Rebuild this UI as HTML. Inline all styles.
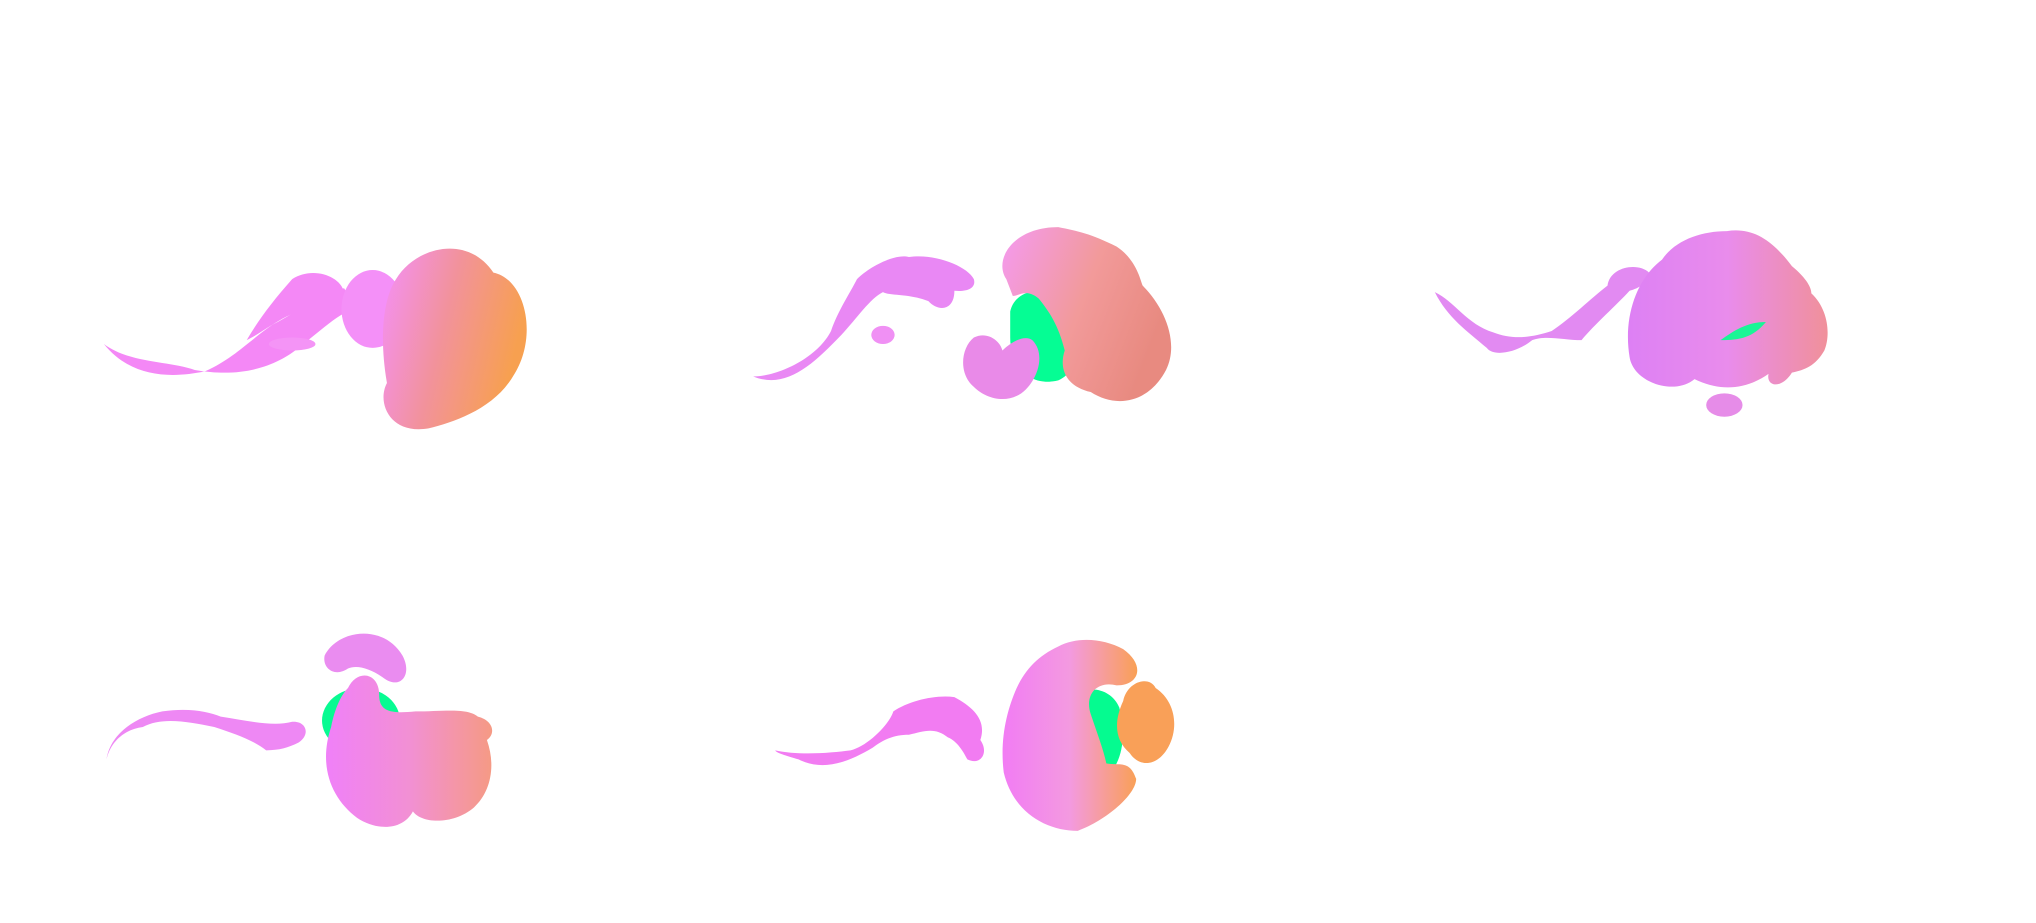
<!DOCTYPE html>
<html><head><meta charset="utf-8"><style>
html,body{margin:0;padding:0;background:#fff;width:2036px;height:923px;overflow:hidden}
svg{display:block}
</style></head><body>
<svg width="2036" height="923" viewBox="0 0 1568 711" preserveAspectRatio="none" xmlns="http://www.w3.org/2000/svg">
<defs>
<linearGradient id="g1" x1="0" y1="0" x2="1" y2="0.3"><stop offset="0" stop-color="#f490f8"/><stop offset="0.5" stop-color="#f2929c"/><stop offset="1" stop-color="#f7a050"/></linearGradient>
<linearGradient id="g2" x1="0" y1="0" x2="1" y2="0.4"><stop offset="0" stop-color="#f49af0"/><stop offset="0.55" stop-color="#f29a9a"/><stop offset="1" stop-color="#e88a80"/></linearGradient>
<linearGradient id="g3" x1="0" y1="0" x2="1" y2="0"><stop offset="0" stop-color="#dd80f4"/><stop offset="0.5" stop-color="#e98cec"/><stop offset="1" stop-color="#f0909a"/></linearGradient>
<linearGradient id="g4" x1="0" y1="0" x2="1" y2="0"><stop offset="0" stop-color="#f080f8"/><stop offset="0.5" stop-color="#f290d4"/><stop offset="1" stop-color="#f59a84"/></linearGradient>
<linearGradient id="g5" x1="0" y1="0" x2="1" y2="0"><stop offset="0" stop-color="#f27cf4"/><stop offset="0.5" stop-color="#f39ae0"/><stop offset="1" stop-color="#f9a055"/></linearGradient>
</defs>

<g>
<path fill="#f488f6" d="M80,265 C100,280 130,278 150,285 C190,292 215,280 230,268 C250,252 265,238 275,238 L265,222 C245,226 230,240 210,250 C190,264 180,276 158,286 C130,292 100,290 80,265Z"/>
<path fill="#f488f6" d="M190,262 C200,245 210,232 225,215 C240,205 262,212 265,225 C265,238 255,242 245,238 C225,236 205,255 190,262Z"/>
<ellipse cx="225" cy="265" rx="18" ry="5" fill="#f494f6"/>
<ellipse cx="287" cy="238" rx="24" ry="30" fill="#f490f8"/>
<path fill="url(#g1)" d="M305,215 C320,190 360,180 380,210 C405,215 415,260 395,290 C380,315 350,325 330,330 C300,335 290,310 298,295 C292,260 295,230 305,215Z"/>
</g>

<g>
<path fill="#e988f4" d="M580,290 C600,290 630,275 640,255 C645,240 655,225 660,215 C670,205 690,195 700,198 C720,195 745,205 750,215 C752,222 745,225 735,224 C735,240 722,240 715,232 C700,226 685,228 680,225 C670,230 660,245 648,258 C625,282 605,300 580,290Z"/>
<ellipse cx="680" cy="258" rx="9" ry="7" fill="#f090f4"/>
<path fill="#05fd94" d="M778,240 C782,222 805,220 815,232 C830,250 835,285 815,293 C795,298 778,285 778,260Z"/>
<path fill="url(#g2)" d="M775,215 C765,200 780,175 815,175 C830,178 840,180 860,190 C875,200 878,215 880,220 C898,238 908,265 898,285 C885,310 860,315 840,302 C822,298 815,285 820,270 C815,250 808,240 800,230 C790,222 785,228 780,228Z"/>
<path fill="#e98ae8" d="M750,260 C760,255 770,262 772,270 C780,262 790,258 795,262 C805,272 800,290 790,300 C778,312 760,308 750,298 C738,288 740,268 750,260Z"/>
</g>

<g>
<path fill="#e28af2" d="M1105,225 C1120,232 1130,250 1150,256 C1165,262 1180,260 1195,255 C1210,245 1225,230 1238,220 C1240,205 1262,202 1270,210 C1270,218 1262,222 1255,224 C1245,235 1228,250 1218,262 C1205,262 1190,258 1180,262 C1168,272 1150,275 1145,268 C1130,255 1115,245 1105,225Z"/>
<path fill="url(#g3)" d="M1280,200 C1290,185 1310,178 1330,178 C1350,175 1365,185 1380,205 C1392,215 1395,222 1395,226 C1408,238 1410,258 1405,270 C1398,282 1390,285 1380,287 C1372,300 1360,298 1362,288 C1345,300 1325,302 1305,292 C1290,305 1258,295 1255,275 C1250,245 1260,215 1280,200Z"/>
<path fill="#1af596" d="M1325,262 C1335,255 1345,248 1360,248 C1350,260 1340,262 1325,262Z"/>
<ellipse cx="1328" cy="312" rx="14" ry="9" fill="#e68ce8"/>
</g>

<g>
<path fill="#ee88f4" d="M82,585 C85,565 105,552 125,548 C145,545 160,548 170,552 C190,555 210,560 225,556 C235,555 240,565 230,572 C222,576 215,578 205,578 C195,570 180,565 165,560 C145,556 125,552 110,560 C95,562 85,572 82,585Z"/>
<path fill="#ea8cf0" d="M250,505 C260,485 295,480 310,505 C318,520 308,532 295,522 C285,515 275,512 268,515 C258,522 248,515 250,505Z"/>
<ellipse cx="278" cy="555" rx="30" ry="25" fill="#08fb92"/>
<path fill="url(#g4)" d="M268,530 C275,515 292,518 292,535 C292,548 300,550 320,548 C340,548 360,545 368,552 C380,555 382,565 375,570 C382,590 378,610 365,622 C350,635 325,635 318,625 C310,640 290,640 275,630 C255,615 245,590 255,560 C258,545 263,535 268,530Z"/>
</g>

<g>
<path fill="#f27cf2" d="M597,578 C615,582 640,580 655,578 C668,575 685,558 688,548 C700,540 720,535 735,537 C750,545 760,555 755,570 C762,580 755,590 745,585 C740,575 735,570 730,568 C720,560 712,563 700,566 C688,566 680,570 672,576 C655,586 635,595 615,585 C605,582 598,580 597,578Z"/>
<path fill="#05fb90" d="M822,545 C830,525 855,528 862,545 C870,575 860,600 840,605 C822,598 815,575 822,545Z"/>
<path fill="url(#g5)" d="M783,530 C790,515 800,505 815,498 C830,490 850,492 865,500 C882,512 878,528 860,528 C845,524 835,535 840,550 C845,565 850,578 852,588 C862,590 870,585 875,600 C875,612 852,632 830,640 C805,640 780,625 773,595 C770,570 775,548 783,530Z"/>
<path fill="#f9a058" d="M865,540 C868,525 885,520 890,530 C905,540 908,560 900,575 C892,590 878,592 870,580 C858,570 858,555 865,540Z"/>
</g>
</svg>
</body></html>
